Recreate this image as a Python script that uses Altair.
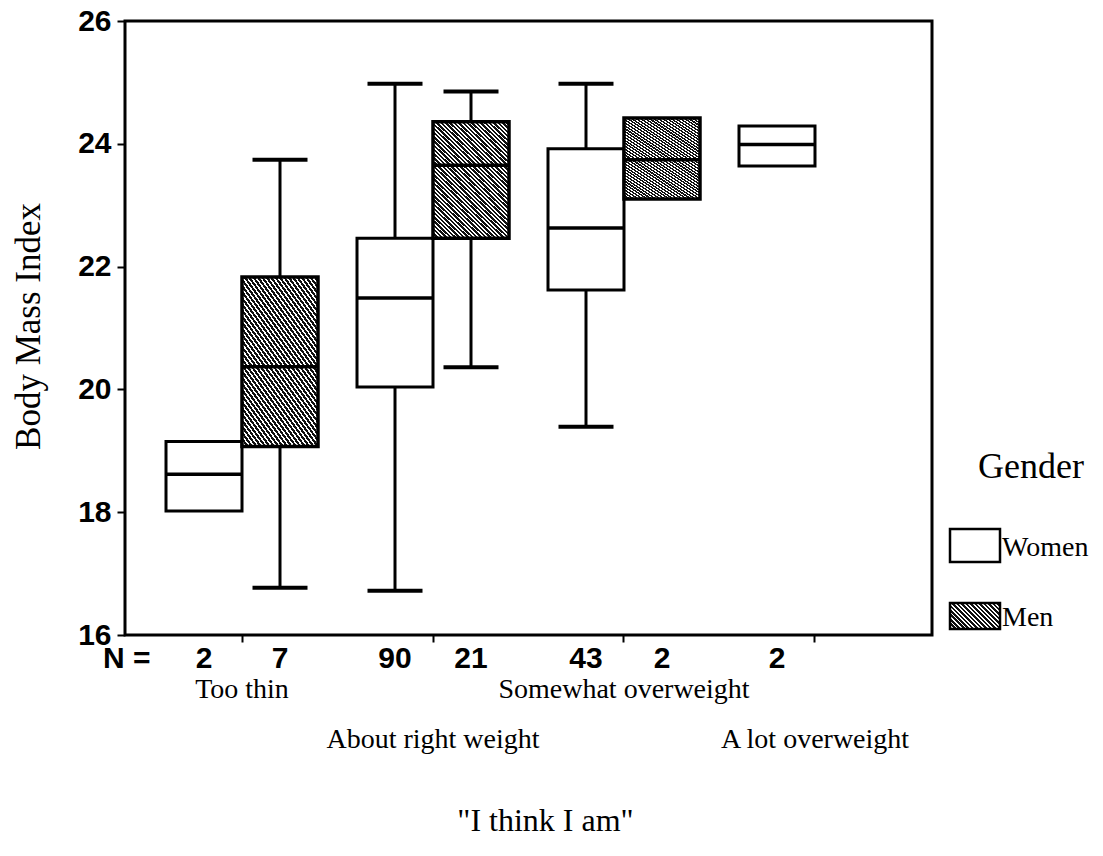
import altair as alt
import pandas as pd

# ---------------- data ----------------
categories = ["Too thin", "About right weight", "Somewhat overweight", "A lot overweight"]
genders = ["Women", "Men"]

box_category = ["Too thin", "Too thin", "About right weight", "About right weight",
                "Somewhat overweight", "Somewhat overweight", "A lot overweight"]
box_gender = ["Women", "Men", "Women", "Men", "Women", "Men", "Women"]
box_n = [2, 7, 90, 21, 43, 2, 2]
whisker_low = [None, 16.77, 16.72, 20.36, 19.39, None, None]
quartile_1 = [18.02, 19.07, 20.04, 22.46, 21.62, 23.10, 23.64]
median = [18.62, 20.37, 21.49, 23.65, 22.63, 23.74, 23.99]
quartile_3 = [19.15, 21.83, 22.46, 24.36, 23.92, 24.42, 24.29]
whisker_high = [None, 23.74, 24.98, 24.85, 24.98, None, None]

y_ticks = [16, 18, 20, 22, 24, 26]

df = pd.DataFrame({
    "category": box_category,
    "gender": box_gender,
    "n": box_n,
    "lo": whisker_low,
    "q1": quartile_1,
    "med": median,
    "q3": quartile_3,
    "hi": whisker_high,
})
cat_df = pd.DataFrame({"category": categories})

# ---------------- styles ----------------
SERIF = "Liberation Serif"
SANS = "Liberation Sans"


def hatch(n, x1, y1, x2, y2, frac=0.58):
    stops = []
    for i in range(n):
        a, b, c = i / n, (i + frac) / n, (i + 1) / n
        stops += [
            alt.GradientStop(offset=a, color="#111111"),
            alt.GradientStop(offset=b, color="#111111"),
            alt.GradientStop(offset=b, color="#ffffff"),
            alt.GradientStop(offset=c, color="#ffffff"),
        ]
    return alt.LinearGradient(gradient="linear", stops=stops, x1=x1, y1=y1, x2=x2, y2=y2)


box_hatch = hatch(45, 0, 1, 0.7303, -0.168)
legend_hatch = hatch(17, 0, 1, 1.1965, 0.378)

x_enc = alt.X(
    "category:N",
    sort=categories,
    scale=alt.Scale(domain=categories, paddingInner=0, paddingOuter=0.1126),
    axis=alt.Axis(
        labels=False, ticks=True, tickSize=7, tickWidth=2, tickColor="black",
        domain=False, grid=False,
        title='"I think I am"', titleFont=SERIF, titleFontSize=32,
        titleFontWeight="normal", titleColor="black",
        titleX=420, titleY=185, titleBaseline="middle", titleAlign="center",
    ),
)
xoff_enc = alt.XOffset(
    "gender:N", sort=genders,
    scale=alt.Scale(domain=genders, paddingInner=0, paddingOuter=0.2566),
)
y_scale = alt.Scale(domain=[16, 26], nice=False, zero=False)
y_axis = alt.Axis(
    values=y_ticks, grid=False, domain=False,
    tickSize=8, tickWidth=2, tickColor="black",
    labelFont=SANS, labelFontSize=30, labelFontWeight="bold", labelColor="black",
    labelPadding=6,
    title="Body Mass Index", titleFont=SERIF, titleFontSize=35,
    titleFontWeight="normal", titleColor="black",
    titleAngle=-90, titleX=-97, titleY=305, titleBaseline="middle", titleAlign="center",
)


def y_enc(field):
    return alt.Y(field, scale=y_scale, axis=y_axis, title="Body Mass Index")


base = alt.Chart(df)

whisk_hi = base.mark_rule(color="black", strokeWidth=3).encode(
    x=x_enc, xOffset=xoff_enc, y=y_enc("hi:Q"), y2="q3:Q"
).transform_filter("isValid(datum.hi)")
whisk_lo = base.mark_rule(color="black", strokeWidth=3).encode(
    x=x_enc, xOffset=xoff_enc, y=y_enc("lo:Q"), y2="q1:Q"
).transform_filter("isValid(datum.lo)")

box_w = base.mark_bar(fill="white", stroke="black", strokeWidth=3).encode(
    x=x_enc, xOffset=xoff_enc, y=y_enc("q1:Q"), y2="q3:Q"
).transform_filter("datum.gender == 'Women'")
box_m = base.mark_bar(fill=box_hatch, stroke="black", strokeWidth=3.5).encode(
    x=x_enc, xOffset=xoff_enc, y=y_enc("q1:Q"), y2="q3:Q"
).transform_filter("datum.gender == 'Men'")

cap_hi = base.mark_tick(color="black", size=55, thickness=4, opacity=1).encode(
    x=x_enc, xOffset=xoff_enc, y=y_enc("hi:Q")
).transform_filter("isValid(datum.hi)")
cap_lo = base.mark_tick(color="black", size=55, thickness=4, opacity=1).encode(
    x=x_enc, xOffset=xoff_enc, y=y_enc("lo:Q")
).transform_filter("isValid(datum.lo)")
med = base.mark_tick(color="black", size=77, thickness=3.5, opacity=1).encode(
    x=x_enc, xOffset=xoff_enc, y=y_enc("med:Q")
)

n_text = base.mark_text(font=SANS, fontSize=30, fontWeight="bold", color="black",
                        baseline="middle", align="center").encode(
    x=x_enc, xOffset=xoff_enc, y=alt.value(638), text="n:Q"
)
n_label = alt.Chart(alt.Data(values=[{"t": "N ="}])).mark_text(
    font=SANS, fontSize=30, fontWeight="bold", color="black", baseline="middle", align="left"
).encode(x=alt.value(-22), y=alt.value(638), text="t:N")

cat_row1 = alt.Chart(cat_df).mark_text(
    font=SERIF, fontSize=28, color="black", baseline="middle", align="center"
).encode(x=x_enc, y=alt.value(669), text="category:N").transform_filter(
    alt.FieldOneOfPredicate(field="category", oneOf=categories[0::2]))
cat_row2 = alt.Chart(cat_df).mark_text(
    font=SERIF, fontSize=28, color="black", baseline="middle", align="center"
).encode(x=x_enc, y=alt.value(719), text="category:N").transform_filter(
    alt.FieldOneOfPredicate(field="category", oneOf=categories[1::2]))

# legend
leg_title = alt.Chart(alt.Data(values=[{"t": "Gender"}])).mark_text(
    font=SERIF, fontSize=36, color="black", baseline="middle", align="center"
).encode(x=alt.value(906), y=alt.value(446), text="t:N")
leg_w = alt.Chart(alt.Data(values=[{"t": genders[0]}])).mark_rect(
    fill="white", stroke="black", strokeWidth=2.5
).encode(x=alt.value(825), x2=alt.value(875), y=alt.value(508), y2=alt.value(541))
leg_m = alt.Chart(alt.Data(values=[{"t": genders[1]}])).mark_rect(
    fill=legend_hatch, stroke="black", strokeWidth=2.5
).encode(x=alt.value(825), x2=alt.value(875), y=alt.value(582), y2=alt.value(608))
leg_wt = alt.Chart(alt.Data(values=[{"t": genders[0]}])).mark_text(
    font=SERIF, fontSize=28, color="black", baseline="middle", align="left"
).encode(x=alt.value(877), y=alt.value(527), text="t:N")
leg_mt = alt.Chart(alt.Data(values=[{"t": genders[1]}])).mark_text(
    font=SERIF, fontSize=28, color="black", baseline="middle", align="left"
).encode(x=alt.value(877), y=alt.value(597), text="t:N")

chart = alt.layer(
    whisk_hi, whisk_lo, box_w, box_m, cap_hi, cap_lo, med,
    n_text, n_label, cat_row1, cat_row2,
    leg_title, leg_w, leg_m, leg_wt, leg_mt,
).properties(
    width=807, height=614,
    padding={"left": 125, "top": 21, "right": 171, "bottom": 221},
    autosize=alt.AutoSizeParams(type="none"),
    background="white",
).configure_view(stroke="black", strokeWidth=3)

chart.save("out.html", embed_options={"renderer": "svg", "actions": False})
